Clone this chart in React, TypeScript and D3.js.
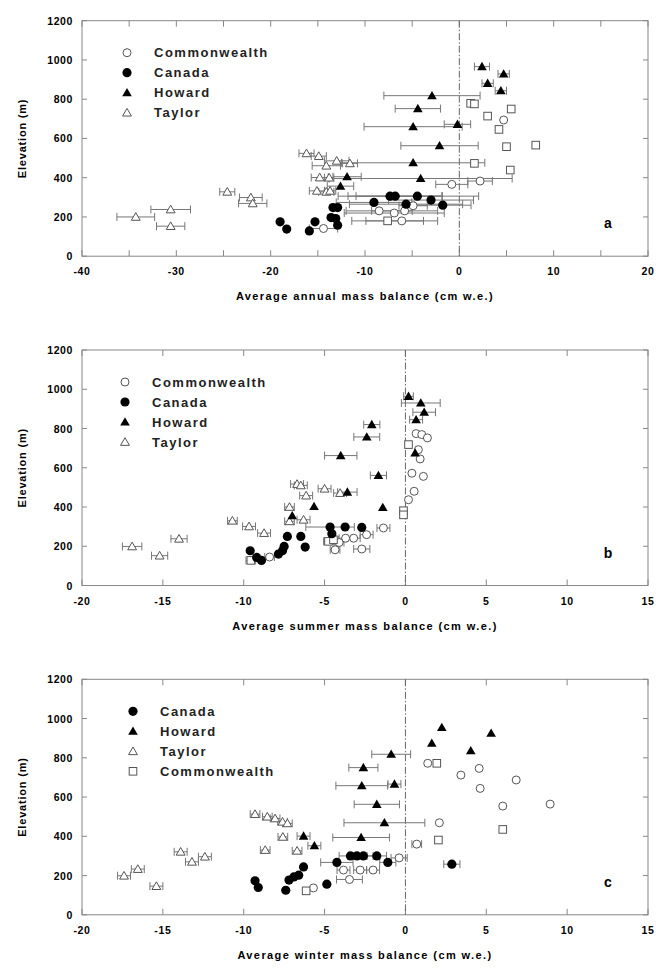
import React from "react";
import * as d3 from "d3";

type Pt = [number, number, number]; // [mass balance, elevation, +/- error]

// panel a: average annual mass balance
const annualCommonwealth: Pt[] = [
  [4.7, 694, 0], [2.2, 383, 1.3], [-0.8, 366, 1.7], [-8.5, 231, 3.5], [-6.9, 220, 5.3],
  [-5.8, 231, 3.5], [-6.1, 180, 3.8], [-14.4, 141, 1.5], [-4.9, 257, 1.5],
];
const annualCommonwealthSq: Pt[] = [
  [1.2, 779, 0], [1.6, 776, 0], [5.5, 750, 0], [3.0, 714, 0], [4.2, 646, 0], [5.0, 558, 0],
  [8.1, 566, 0], [1.6, 473, 0], [5.4, 439, 0], [-7.6, 180, 3.8],
];
const annualCanada: Pt[] = [
  [-7.35, 306, 5.5], [-6.8, 306, 5], [-4.45, 306, 6.5], [-3.0, 286, 4.5], [-1.76, 260, 3],
  [-5.65, 265, 6], [-9.05, 274, 4], [-13.4, 248, 0], [-12.9, 248, 0], [-13.6, 197, 0],
  [-13.1, 192, 0], [-12.9, 158, 0], [-15.3, 175, 0], [-15.9, 129, 0], [-19.0, 175, 0], [-18.3, 138, 0],
];
const annualHoward: Pt[] = [
  [2.4, 966, 0.8], [4.7, 929, 0.6], [3.0, 881, 0.6], [4.4, 843, 0.6], [-2.9, 818, 5.1],
  [-4.4, 752, 2.4], [-0.2, 672, 1.4], [-4.9, 660, 5.2], [-2.1, 563, 4.1], [-4.9, 476, 7.6],
  [-11.9, 405, 1.5], [-4.1, 396, 9.7], [-12.6, 357, 1.4],
];
const annualTaylor: Pt[] = [
  [-34.3, 200, 2], [-30.6, 238, 2.1], [-30.6, 153, 1.5], [-24.6, 328, 0.8], [-22.1, 299, 1.2],
  [-21.9, 269, 1.5], [-16.2, 524, 0.8], [-14.9, 510, 0.8], [-14.1, 461, 1.5], [-13.0, 486, 1.3],
  [-11.6, 473, 0.8], [-14.8, 401, 0.9], [-13.8, 400, 0.5], [-15.1, 333, 0.8], [-14.1, 328, 0.8],
  [-13.7, 333, 0.6],
];

// panel b: average summer mass balance
const summerCommonwealth: Pt[] = [
  [0.66, 774, 0], [1.01, 769, 0], [1.36, 752, 0], [0.8, 692, 0], [0.91, 645, 0], [0.4, 572, 0],
  [1.11, 556, 0], [0.54, 480, 0], [0.19, 437, 0], [-1.36, 293, 0.4], [-2.4, 259, 0.4],
  [-3.2, 241, 0.4], [-3.7, 241, 0.4], [-4.1, 219, 0.3], [-2.7, 186, 0.5], [-4.35, 182, 0.3],
  [-8.4, 145, 0.3],
];
const summerCommonwealthSq: Pt[] = [
  [0.19, 718, 0], [-0.12, 381, 0.2], [-0.12, 360, 0.2], [-9.56, 128, 0.3], [-4.76, 225, 0.3],
  [-4.45, 233, 0.3],
];
const summerCanada: Pt[] = [
  [-9.6, 177, 0], [-9.2, 143, 0], [-8.9, 128, 0], [-7.85, 160, 0], [-7.6, 177, 0], [-7.5, 199, 0],
  [-7.3, 250, 0], [-6.47, 250, 0], [-6.2, 196, 0], [-4.66, 298, 1.5], [-4.55, 264, 0],
  [-3.73, 298, 0], [-2.7, 296, 0],
];
const summerHoward: Pt[] = [
  [0.19, 964, 0.3], [0.95, 930, 1.2], [1.16, 883, 0.7], [0.66, 845, 0.4], [-2.08, 820, 0.5],
  [-2.39, 757, 0.8], [0.6, 675, 0], [-4.0, 662, 1.0], [-1.67, 561, 0.5], [-3.59, 476, 0.6],
  [-5.65, 403, 0], [-1.4, 398, 0], [-7.0, 356, 0],
];
const summerTaylor: Pt[] = [
  [-16.9, 199, 0.6], [-15.2, 152, 0.5], [-14.0, 238, 0.5], [-10.7, 330, 0.3], [-9.67, 301, 0.4],
  [-8.74, 267, 0.4], [-7.17, 400, 0.3], [-7.17, 327, 0.3], [-6.3, 335, 0.4], [-6.7, 517, 0.4],
  [-6.47, 510, 0.4], [-6.14, 458, 0.4], [-5.0, 493, 0.4], [-4.04, 471, 0.4],
];

// panel c: average winter mass balance
const winterCanada: Pt[] = [
  [2.87, 258, 0.5], [-1.09, 267, 0.5], [-1.77, 300, 0.6], [-2.6, 300, 0.6], [-3.0, 300, 0.5],
  [-3.4, 300, 0.7], [-4.24, 267, 1.0], [-4.86, 156, 0], [-6.3, 244, 0], [-6.6, 202, 0],
  [-6.9, 193, 0], [-7.2, 177, 0], [-7.4, 125, 0], [-9.3, 173, 0], [-9.1, 139, 0],
];
const winterHoward: Pt[] = [
  [2.25, 955, 0], [5.3, 925, 0], [1.63, 874, 0], [4.04, 836, 0], [-0.88, 818, 1.2],
  [-2.6, 750, 0.9], [-2.7, 658, 1.6], [-0.68, 666, 0.4], [-1.77, 563, 1.4], [-1.3, 469, 2.5],
  [-2.74, 394, 1.75], [-6.3, 401, 0.4], [-5.63, 352, 0.4],
];
const winterTaylor: Pt[] = [
  [-17.4, 199, 0.4], [-16.55, 233, 0.4], [-15.4, 146, 0.4], [-13.9, 321, 0.4], [-13.2, 270, 0.4],
  [-12.4, 296, 0.4], [-9.3, 513, 0.3], [-8.54, 500, 0.3], [-8.06, 491, 0.3], [-7.6, 474, 0.3],
  [-7.3, 466, 0.3], [-7.58, 397, 0.3], [-8.67, 330, 0.3], [-6.7, 326, 0.3],
];
const winterCommonwealth: Pt[] = [
  [1.38, 772, 0], [3.43, 712, 0], [4.56, 746, 0], [4.62, 644, 0], [6.85, 687, 0], [6.02, 554, 0],
  [8.95, 564, 0], [2.1, 469, 0], [0.7, 360, 0.3], [-0.39, 290, 0.5], [-2.0, 228, 0.4],
  [-2.8, 228, 0.4], [-3.83, 228, 0.4], [-3.46, 180, 0.8], [-5.69, 137, 0],
];
const winterCommonwealthSq: Pt[] = [
  [1.94, 772, 0], [6.02, 435, 0], [2.04, 381, 0], [-6.14, 122, 0],
];

const elevTicks = [0, 200, 400, 600, 800, 1000, 1200];
const annualLabels = [-40, -30, -20, -10, 0, 10, 20];
const seasonLabels = [-20, -15, -10, -5, 0, 5, 10, 15];

const FONT = "'Liberation Sans', Arial, sans-serif";
const LEFT = 82;
const RIGHT = 648;

type Kind = "circleOpen" | "circleFill" | "triFill" | "triOpen" | "square";

const Marker = ({ kind, x, y }: { kind: Kind; x: number; y: number }) => {
  if (kind === "circleFill") return <circle cx={x} cy={y} r={4.6} fill="#000" />;
  if (kind === "circleOpen")
    return <circle cx={x} cy={y} r={4} fill="#fff" stroke="#555" strokeWidth={1} />;
  if (kind === "square")
    return <rect x={x - 3.8} y={y - 3.8} width={7.6} height={7.6} fill="#fff" stroke="#555" strokeWidth={1} />;
  const tri = d3.symbol().type(d3.symbolTriangle).size(kind === "triFill" ? 40 : 34)();
  return kind === "triFill" ? (
    <path d={tri!} transform={`translate(${x},${y + 0.8})`} fill="#000" />
  ) : (
    <path d={tri!} transform={`translate(${x},${y + 0.8})`} fill="#fff" stroke="#555" strokeWidth={1} />
  );
};

type Series = { data: Pt[]; kind: Kind };
type LegendItem = { kind: Kind; label: string };

const Panel = ({
  top, domain, labels, title, letter, series, legend, legendX,
}: {
  top: number;
  domain: [number, number];
  labels: number[];
  title: string;
  letter: string;
  series: Series[];
  legend: LegendItem[];
  legendX: number;
}) => {
  const bottom = top + 235.5;
  const x = d3.scaleLinear().domain(domain).range([LEFT, RIGHT]);
  const y = d3.scaleLinear().domain([0, 1200]).range([bottom, top]);
  const minor = d3.range(domain[0], domain[1] + 0.01, 5);
  const axisCol = "#888";

  return (
    <g>
      <rect x={LEFT} y={top} width={RIGHT - LEFT} height={bottom - top} fill="none" stroke={axisCol} strokeWidth={1} />
      {minor.map((t) => (
        <g key={"xt" + t}>
          <line x1={x(t)} x2={x(t)} y1={bottom} y2={bottom - 6} stroke={axisCol} />
          <line x1={x(t)} x2={x(t)} y1={top} y2={top + 6} stroke={axisCol} />
        </g>
      ))}
      {elevTicks.map((t) => (
        <g key={"yt" + t}>
          <line x1={LEFT} x2={LEFT + 5} y1={y(t)} y2={y(t)} stroke={axisCol} />
          <line x1={RIGHT} x2={RIGHT - 5} y1={y(t)} y2={y(t)} stroke={axisCol} />
          <text x={73} y={y(t) + 4} textAnchor="end" fontSize={10.5} fontWeight="bold" fontFamily={FONT} letterSpacing={0.6}>
            {t}
          </text>
        </g>
      ))}
      {labels.map((t) => (
        <text key={"xl" + t} x={x(t)} y={bottom + 19} textAnchor="middle" fontSize={10.5} fontWeight="bold" fontFamily={FONT} letterSpacing={0.6}>
          {t}
        </text>
      ))}
      <line x1={x(0)} x2={x(0)} y1={top} y2={bottom} stroke="#666" strokeWidth={1} strokeDasharray="7,2,1.5,2" />
      <text x={(LEFT + RIGHT) / 2} y={bottom + 44} textAnchor="middle" fontSize={11} fontWeight="bold" fontFamily={FONT} letterSpacing={1.4}>
        {title}
      </text>
      <text transform={`translate(26,${(top + bottom) / 2}) rotate(-90)`} textAnchor="middle" fontSize={11} fontWeight="bold" fontFamily={FONT} letterSpacing={0.8}>
        Elevation (m)
      </text>
      <text x={608} y={bottom - 28} textAnchor="middle" fontSize={14} fontWeight="bold" fontFamily={FONT}>
        {letter}
      </text>
      {series.map((s, si) =>
        s.data
          .filter((d) => d[2] > 0)
          .map((d, i) => (
            <g key={`e${si}-${i}`} stroke="#777" strokeWidth={1}>
              <line x1={x(d[0] - d[2])} x2={x(d[0] + d[2])} y1={y(d[1])} y2={y(d[1])} />
              <line x1={x(d[0] - d[2])} x2={x(d[0] - d[2])} y1={y(d[1]) - 4} y2={y(d[1]) + 4} />
              <line x1={x(d[0] + d[2])} x2={x(d[0] + d[2])} y1={y(d[1]) - 4} y2={y(d[1]) + 4} />
            </g>
          ))
      )}
      {series.map((s, si) =>
        s.data.map((d, i) => <Marker key={`m${si}-${i}`} kind={s.kind} x={x(d[0])} y={y(d[1])} />)
      )}
      {legend.map((l, i) => (
        <g key={"lg" + i}>
          <Marker kind={l.kind} x={legendX} y={top + 32 + i * 20} />
          <text x={legendX + 27} y={top + 32 + i * 20 + 4.5} fontSize={13} fontWeight="bold" fontFamily={FONT} letterSpacing={1.5} fill="#222">
            {l.label}
          </text>
        </g>
      ))}
    </g>
  );
};

const legendAB: LegendItem[] = [
  { kind: "circleOpen", label: "Commonwealth" },
  { kind: "circleFill", label: "Canada" },
  { kind: "triFill", label: "Howard" },
  { kind: "triOpen", label: "Taylor" },
];
const legendC: LegendItem[] = [
  { kind: "circleFill", label: "Canada" },
  { kind: "triFill", label: "Howard" },
  { kind: "triOpen", label: "Taylor" },
  { kind: "square", label: "Commonwealth" },
];

export default function App() {
  return (
    <svg width={656} height={971} style={{ position: "absolute", left: 0, top: 0, background: "#fff" }}>
      <Panel
        top={20.7}
        domain={[-40, 20]}
        labels={annualLabels}
        title="Average annual mass balance (cm w.e.)"
        letter="a"
        legendX={127}
        legend={legendAB}
        series={[
          { data: annualTaylor, kind: "triOpen" },
          { data: annualCommonwealth, kind: "circleOpen" },
          { data: annualCommonwealthSq, kind: "square" },
          { data: annualCanada, kind: "circleFill" },
          { data: annualHoward, kind: "triFill" },
        ]}
      />
      <Panel
        top={350}
        domain={[-20, 15]}
        labels={seasonLabels}
        title="Average summer mass balance (cm w.e.)"
        letter="b"
        legendX={125}
        legend={legendAB}
        series={[
          { data: summerTaylor, kind: "triOpen" },
          { data: summerCommonwealth, kind: "circleOpen" },
          { data: summerCommonwealthSq, kind: "square" },
          { data: summerCanada, kind: "circleFill" },
          { data: summerHoward, kind: "triFill" },
        ]}
      />
      <Panel
        top={679.3}
        domain={[-20, 15]}
        labels={seasonLabels}
        title="Average winter mass balance (cm w.e.)"
        letter="c"
        legendX={133}
        legend={legendC}
        series={[
          { data: winterTaylor, kind: "triOpen" },
          { data: winterCommonwealth, kind: "circleOpen" },
          { data: winterCommonwealthSq, kind: "square" },
          { data: winterCanada, kind: "circleFill" },
          { data: winterHoward, kind: "triFill" },
        ]}
      />
    </svg>
  );
}
